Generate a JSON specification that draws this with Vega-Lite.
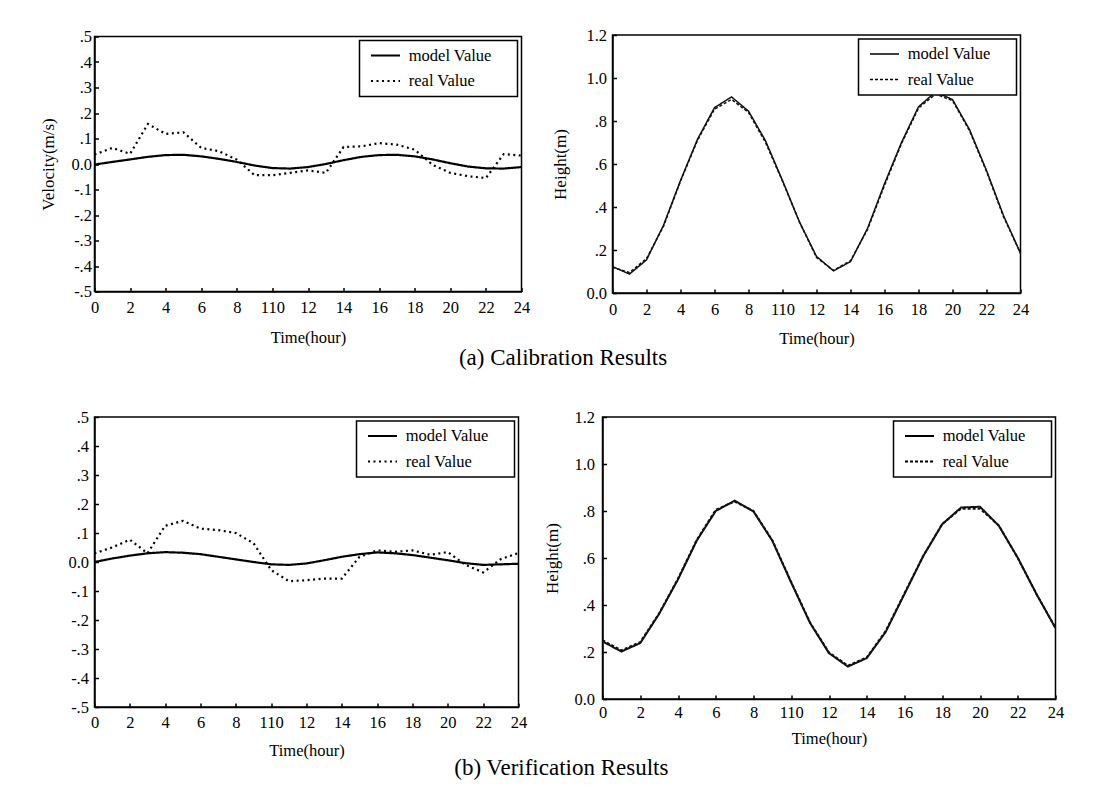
{
  "$schema": "https://vega.github.io/schema/vega-lite/v6.json",
  "padding": {"left": 35.5, "top": 26, "right": 5, "bottom": 5},
  "background": "white",
  "config": {
    "font": "Liberation Serif",
    "view": {"stroke": "black", "strokeWidth": 1.5},
    "axis": {
      "domainColor": "black", "domainWidth": 1.5,
      "tickColor": "black", "tickWidth": 1.5, "tickSize": -4,
      "labelFont": "Liberation Serif", "labelFontSize": 16.5, "labelColor": "black",
      "labelFlush": false, "labelOverlap": false, "labelBound": false,
      "titleFont": "Liberation Serif", "titleFontWeight": "normal", "titleColor": "black",
      "grid": false
    },
    "axisX": {"titleFontSize": 16.5, "titlePadding": 13, "labelPadding": 12},
    "axisY": {"titleFontSize": 17, "titlePadding": 16, "labelPadding": 9},
    "legend": {
      "orient": "top-right", "offset": 4,
      "titleOrient": "right", "titlePadding": 19, "titleFontSize": 16,
      "strokeColor": "black", "strokeWidth": 1.5, "fillColor": "white",
      "padding": 6.75, "rowPadding": 8.5,
      "labelFont": "Liberation Serif", "labelFontSize": 16.5, "labelColor": "black",
      "labelOffset": 15, "labelLimit": 300,
      "symbolType": "M-2.9,0H2.9", "symbolSize": 100, "symbolStrokeWidth": 2,
      "symbolStrokeColor": "black", "symbolFillColor": "transparent", "symbolOffset": 11
    },
    "title": {"font": "Liberation Serif", "fontSize": 23, "fontWeight": "normal", "color": "black", "orient": "bottom", "anchor": "middle"}
  },
  "datasets": {
    "cal_vel": [
      {"h":0,"v":-0.002,"s":"model Value"},{"h":1,"v":0.008,"s":"model Value"},{"h":2,"v":0.018,"s":"model Value"},{"h":3,"v":0.028,"s":"model Value"},{"h":4,"v":0.035,"s":"model Value"},{"h":5,"v":0.036,"s":"model Value"},{"h":6,"v":0.03,"s":"model Value"},{"h":7,"v":0.02,"s":"model Value"},{"h":8,"v":0.008,"s":"model Value"},{"h":9,"v":-0.006,"s":"model Value"},{"h":10,"v":-0.016,"s":"model Value"},{"h":11,"v":-0.018,"s":"model Value"},{"h":12,"v":-0.012,"s":"model Value"},{"h":13,"v":0.0,"s":"model Value"},{"h":14,"v":0.015,"s":"model Value"},{"h":15,"v":0.028,"s":"model Value"},{"h":16,"v":0.035,"s":"model Value"},{"h":17,"v":0.036,"s":"model Value"},{"h":18,"v":0.03,"s":"model Value"},{"h":19,"v":0.018,"s":"model Value"},{"h":20,"v":0.003,"s":"model Value"},{"h":21,"v":-0.01,"s":"model Value"},{"h":22,"v":-0.017,"s":"model Value"},{"h":23,"v":-0.018,"s":"model Value"},{"h":24,"v":-0.012,"s":"model Value"},
      {"h":0,"v":0.037,"s":"real Value"},{"h":1,"v":0.063,"s":"real Value"},{"h":2,"v":0.04,"s":"real Value"},{"h":3,"v":0.157,"s":"real Value"},{"h":4,"v":0.118,"s":"real Value"},{"h":5,"v":0.124,"s":"real Value"},{"h":6,"v":0.063,"s":"real Value"},{"h":7,"v":0.05,"s":"real Value"},{"h":8,"v":0.017,"s":"real Value"},{"h":9,"v":-0.044,"s":"real Value"},{"h":10,"v":-0.044,"s":"real Value"},{"h":11,"v":-0.035,"s":"real Value"},{"h":12,"v":-0.025,"s":"real Value"},{"h":13,"v":-0.035,"s":"real Value"},{"h":14,"v":0.067,"s":"real Value"},{"h":15,"v":0.069,"s":"real Value"},{"h":16,"v":0.082,"s":"real Value"},{"h":17,"v":0.076,"s":"real Value"},{"h":18,"v":0.056,"s":"real Value"},{"h":19,"v":-0.003,"s":"real Value"},{"h":20,"v":-0.035,"s":"real Value"},{"h":21,"v":-0.048,"s":"real Value"},{"h":22,"v":-0.055,"s":"real Value"},{"h":23,"v":0.039,"s":"real Value"},{"h":24,"v":0.033,"s":"real Value"}
    ],
    "cal_h": [
      {"h":0,"v":0.123,"s":"model Value"},{"h":1,"v":0.088,"s":"model Value"},{"h":2,"v":0.154,"s":"model Value"},{"h":3,"v":0.315,"s":"model Value"},{"h":4,"v":0.523,"s":"model Value"},{"h":5,"v":0.715,"s":"model Value"},{"h":6,"v":0.862,"s":"model Value"},{"h":7,"v":0.912,"s":"model Value"},{"h":8,"v":0.846,"s":"model Value"},{"h":9,"v":0.708,"s":"model Value"},{"h":10,"v":0.523,"s":"model Value"},{"h":11,"v":0.33,"s":"model Value"},{"h":12,"v":0.17,"s":"model Value"},{"h":13,"v":0.103,"s":"model Value"},{"h":14,"v":0.146,"s":"model Value"},{"h":15,"v":0.3,"s":"model Value"},{"h":16,"v":0.508,"s":"model Value"},{"h":17,"v":0.7,"s":"model Value"},{"h":18,"v":0.866,"s":"model Value"},{"h":19,"v":0.935,"s":"model Value"},{"h":20,"v":0.9,"s":"model Value"},{"h":21,"v":0.76,"s":"model Value"},{"h":22,"v":0.57,"s":"model Value"},{"h":23,"v":0.36,"s":"model Value"},{"h":24,"v":0.185,"s":"model Value"},
      {"h":0,"v":0.12,"s":"real Value"},{"h":1,"v":0.095,"s":"real Value"},{"h":2,"v":0.16,"s":"real Value"},{"h":3,"v":0.31,"s":"real Value"},{"h":4,"v":0.52,"s":"real Value"},{"h":5,"v":0.71,"s":"real Value"},{"h":6,"v":0.855,"s":"real Value"},{"h":7,"v":0.9,"s":"real Value"},{"h":8,"v":0.84,"s":"real Value"},{"h":9,"v":0.7,"s":"real Value"},{"h":10,"v":0.52,"s":"real Value"},{"h":11,"v":0.33,"s":"real Value"},{"h":12,"v":0.165,"s":"real Value"},{"h":13,"v":0.105,"s":"real Value"},{"h":14,"v":0.15,"s":"real Value"},{"h":15,"v":0.295,"s":"real Value"},{"h":16,"v":0.5,"s":"real Value"},{"h":17,"v":0.695,"s":"real Value"},{"h":18,"v":0.86,"s":"real Value"},{"h":19,"v":0.925,"s":"real Value"},{"h":20,"v":0.895,"s":"real Value"},{"h":21,"v":0.755,"s":"real Value"},{"h":22,"v":0.565,"s":"real Value"},{"h":23,"v":0.355,"s":"real Value"},{"h":24,"v":0.185,"s":"real Value"}
    ],
    "ver_vel": [
      {"h":0,"v":0.0,"s":"model Value"},{"h":1,"v":0.012,"s":"model Value"},{"h":2,"v":0.022,"s":"model Value"},{"h":3,"v":0.03,"s":"model Value"},{"h":4,"v":0.034,"s":"model Value"},{"h":5,"v":0.032,"s":"model Value"},{"h":6,"v":0.027,"s":"model Value"},{"h":7,"v":0.018,"s":"model Value"},{"h":8,"v":0.009,"s":"model Value"},{"h":9,"v":0.0,"s":"model Value"},{"h":10,"v":-0.008,"s":"model Value"},{"h":11,"v":-0.01,"s":"model Value"},{"h":12,"v":-0.005,"s":"model Value"},{"h":13,"v":0.006,"s":"model Value"},{"h":14,"v":0.018,"s":"model Value"},{"h":15,"v":0.027,"s":"model Value"},{"h":16,"v":0.033,"s":"model Value"},{"h":17,"v":0.03,"s":"model Value"},{"h":18,"v":0.024,"s":"model Value"},{"h":19,"v":0.015,"s":"model Value"},{"h":20,"v":0.006,"s":"model Value"},{"h":21,"v":-0.004,"s":"model Value"},{"h":22,"v":-0.01,"s":"model Value"},{"h":23,"v":-0.008,"s":"model Value"},{"h":24,"v":-0.006,"s":"model Value"},
      {"h":0,"v":0.03,"s":"real Value"},{"h":1,"v":0.05,"s":"real Value"},{"h":2,"v":0.077,"s":"real Value"},{"h":3,"v":0.03,"s":"real Value"},{"h":4,"v":0.125,"s":"real Value"},{"h":5,"v":0.142,"s":"real Value"},{"h":6,"v":0.115,"s":"real Value"},{"h":7,"v":0.11,"s":"real Value"},{"h":8,"v":0.1,"s":"real Value"},{"h":9,"v":0.065,"s":"real Value"},{"h":10,"v":-0.028,"s":"real Value"},{"h":11,"v":-0.066,"s":"real Value"},{"h":12,"v":-0.063,"s":"real Value"},{"h":13,"v":-0.057,"s":"real Value"},{"h":14,"v":-0.057,"s":"real Value"},{"h":15,"v":0.018,"s":"real Value"},{"h":16,"v":0.04,"s":"real Value"},{"h":17,"v":0.035,"s":"real Value"},{"h":18,"v":0.04,"s":"real Value"},{"h":19,"v":0.025,"s":"real Value"},{"h":20,"v":0.034,"s":"real Value"},{"h":21,"v":-0.01,"s":"real Value"},{"h":22,"v":-0.036,"s":"real Value"},{"h":23,"v":0.01,"s":"real Value"},{"h":24,"v":0.031,"s":"real Value"}
    ],
    "ver_h": [
      {"h":0,"v":0.245,"s":"model Value"},{"h":1,"v":0.202,"s":"model Value"},{"h":2,"v":0.238,"s":"model Value"},{"h":3,"v":0.362,"s":"model Value"},{"h":4,"v":0.509,"s":"model Value"},{"h":5,"v":0.675,"s":"model Value"},{"h":6,"v":0.8,"s":"model Value"},{"h":7,"v":0.844,"s":"model Value"},{"h":8,"v":0.798,"s":"model Value"},{"h":9,"v":0.673,"s":"model Value"},{"h":10,"v":0.495,"s":"model Value"},{"h":11,"v":0.323,"s":"model Value"},{"h":12,"v":0.195,"s":"model Value"},{"h":13,"v":0.138,"s":"model Value"},{"h":14,"v":0.174,"s":"model Value"},{"h":15,"v":0.285,"s":"model Value"},{"h":16,"v":0.447,"s":"model Value"},{"h":17,"v":0.609,"s":"model Value"},{"h":18,"v":0.744,"s":"model Value"},{"h":19,"v":0.815,"s":"model Value"},{"h":20,"v":0.818,"s":"model Value"},{"h":21,"v":0.737,"s":"model Value"},{"h":22,"v":0.601,"s":"model Value"},{"h":23,"v":0.445,"s":"model Value"},{"h":24,"v":0.302,"s":"model Value"},
      {"h":0,"v":0.25,"s":"real Value"},{"h":1,"v":0.207,"s":"real Value"},{"h":2,"v":0.242,"s":"real Value"},{"h":3,"v":0.365,"s":"real Value"},{"h":4,"v":0.512,"s":"real Value"},{"h":5,"v":0.678,"s":"real Value"},{"h":6,"v":0.805,"s":"real Value"},{"h":7,"v":0.84,"s":"real Value"},{"h":8,"v":0.8,"s":"real Value"},{"h":9,"v":0.675,"s":"real Value"},{"h":10,"v":0.497,"s":"real Value"},{"h":11,"v":0.325,"s":"real Value"},{"h":12,"v":0.198,"s":"real Value"},{"h":13,"v":0.142,"s":"real Value"},{"h":14,"v":0.177,"s":"real Value"},{"h":15,"v":0.289,"s":"real Value"},{"h":16,"v":0.45,"s":"real Value"},{"h":17,"v":0.61,"s":"real Value"},{"h":18,"v":0.745,"s":"real Value"},{"h":19,"v":0.81,"s":"real Value"},{"h":20,"v":0.81,"s":"real Value"},{"h":21,"v":0.738,"s":"real Value"},{"h":22,"v":0.6,"s":"real Value"},{"h":23,"v":0.446,"s":"real Value"},{"h":24,"v":0.302,"s":"real Value"}
    ]
  },
  "vconcat": [
    {
      "hconcat": [
        {
          "width": 427, "height": 255,
          "data": {"name": "cal_vel"},
          "mark": {"type": "line", "color": "black", "strokeWidth": 2.2},
          "encoding": {
            "x": {"field": "h", "type": "quantitative", "scale": {"domain": [0, 24], "nice": false},
                  "axis": {"title": "Time(hour)", "values": [0,2,4,6,8,10,12,14,16,18,20,22,24], "labelExpr": "datum.value == 10 ? '110' : datum.label"}},
            "y": {"field": "v", "type": "quantitative", "scale": {"domain": [-0.5, 0.5], "nice": false, "zero": false},
                  "axis": {"title": "Velocity(m/s)", "titlePadding": 13.5, "labelPadding": 7, "values": [-0.5,-0.4,-0.3,-0.2,-0.1,0,0.1,0.2,0.3,0.4,0.5], "labelExpr": "datum.value == 0 ? '0.0' : replace(toString(datum.value), '0.', '.')"}},
            "strokeDash": {"field": "s", "type": "nominal", "scale": {"domain": ["model Value", "real Value"], "range": [[1, 0], [2, 3.5]]},
                           "legend": {"title": " "}}
          }
        },
        {
          "width": 408, "height": 258,
          "data": {"name": "cal_h"},
          "mark": {"type": "line", "color": "#111111", "strokeWidth": 1.5},
          "encoding": {
            "x": {"field": "h", "type": "quantitative", "scale": {"domain": [0, 24], "nice": false},
                  "axis": {"title": "Time(hour)", "values": [0,2,4,6,8,10,12,14,16,18,20,22,24], "labelExpr": "datum.value == 10 ? '110' : datum.label"}},
            "y": {"field": "v", "type": "quantitative", "scale": {"domain": [0, 1.2], "nice": false},
                  "axis": {"title": "Height(m)", "labelPadding": 10, "values": [0,0.2,0.4,0.6,0.8,1,1.2], "labelExpr": "datum.value == 0 ? '0.0' : datum.value == 1 ? '1.0' : replace(toString(datum.value), '0.', '.')"}},
            "strokeDash": {"field": "s", "type": "nominal", "scale": {"domain": ["model Value", "real Value"], "range": [[1, 0], [3, 2]]},
                           "legend": {"title": " ", "symbolStrokeWidth": 1.6}}
          }
        }
      ],
      "spacing": 91,
      "bounds": "flush",
      "center": true,
      "title": {"text": "(a) Calibration Results", "dx": 29, "offset": -1},
      "resolve": {"scale": {"x": "independent", "y": "independent", "strokeDash": "independent"}, "legend": {"strokeDash": "independent"}}
    },
    {
      "hconcat": [
        {
          "width": 424, "height": 290,
          "data": {"name": "ver_vel"},
          "mark": {"type": "line", "color": "black", "strokeWidth": 2.2},
          "encoding": {
            "x": {"field": "h", "type": "quantitative", "scale": {"domain": [0, 24], "nice": false},
                  "axis": {"title": "Time(hour)", "titlePadding": 12, "labelPadding": 11, "values": [0,2,4,6,8,10,12,14,16,18,20,22,24], "labelExpr": "datum.value == 10 ? '110' : datum.label"}},
            "y": {"field": "v", "type": "quantitative", "scale": {"domain": [-0.5, 0.5], "nice": false, "zero": false},
                  "axis": {"title": " ", "titlePadding": 13, "labelPadding": 10, "values": [-0.5,-0.4,-0.3,-0.2,-0.1,0,0.1,0.2,0.3,0.4,0.5], "labelExpr": "datum.value == 0 ? '0.0' : replace(toString(datum.value), '0.', '.')"}},
            "strokeDash": {"field": "s", "type": "nominal", "scale": {"domain": ["model Value", "real Value"], "range": [[1, 0], [2, 3.5]]},
                           "legend": {"title": " "}}
          }
        },
        {
          "width": 453, "height": 282,
          "data": {"name": "ver_h"},
          "mark": {"type": "line", "color": "#111111", "strokeWidth": 2},
          "encoding": {
            "x": {"field": "h", "type": "quantitative", "scale": {"domain": [0, 24], "nice": false},
                  "axis": {"title": "Time(hour)", "titlePadding": 10, "labelPadding": 9, "values": [0,2,4,6,8,10,12,14,16,18,20,22,24], "labelExpr": "datum.value == 10 ? '110' : datum.label"}},
            "y": {"field": "v", "type": "quantitative", "scale": {"domain": [0, 1.2], "nice": false},
                  "axis": {"title": "Height(m)", "titlePadding": 12.5, "labelPadding": 12, "values": [0,0.2,0.4,0.6,0.8,1,1.2], "labelExpr": "datum.value == 0 ? '0.0' : datum.value == 1 ? '1.0' : replace(toString(datum.value), '0.', '.')"}},
            "strokeDash": {"field": "s", "type": "nominal", "scale": {"domain": ["model Value", "real Value"], "range": [[1, 0], [3, 2]]},
                           "legend": {"title": " ", "symbolStrokeWidth": 1.8}}
          }
        }
      ],
      "spacing": 84,
      "bounds": "flush",
      "title": {"text": "(b) Verification Results", "dx": 11, "offset": -3},
      "resolve": {"scale": {"x": "independent", "y": "independent", "strokeDash": "independent"}, "legend": {"strokeDash": "independent"}}
    }
  ],
  "spacing": 38,
  "resolve": {"scale": {"x": "independent", "y": "independent", "strokeDash": "independent"}, "legend": {"strokeDash": "independent"}}
}
